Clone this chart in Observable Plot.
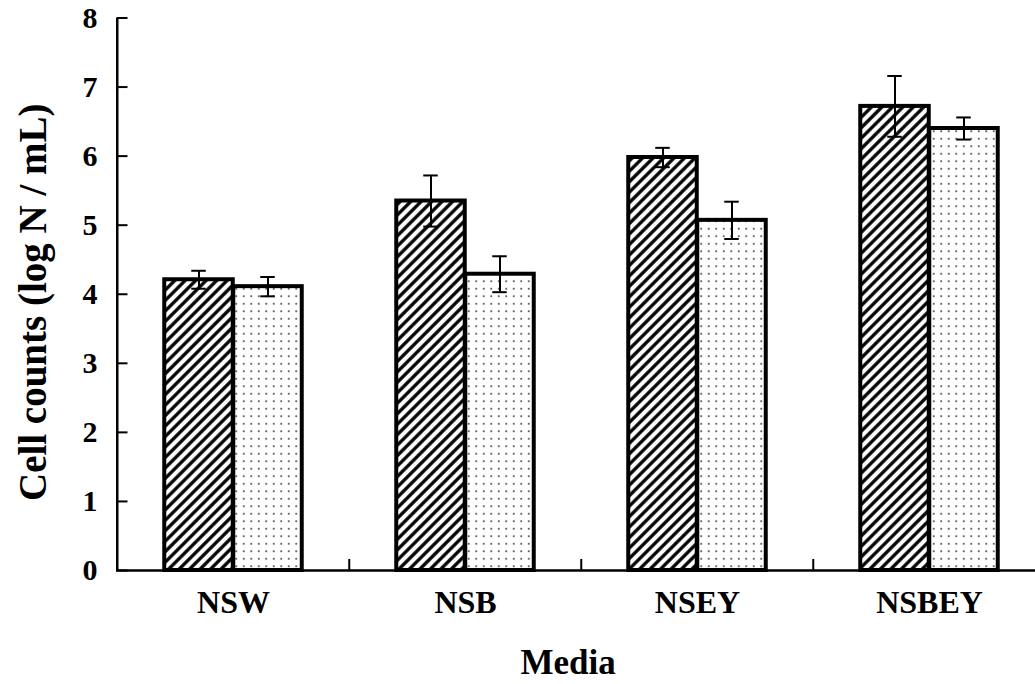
<!DOCTYPE html>
<html>
<head>
<meta charset="utf-8">
<script src="https://cdn.jsdelivr.net/npm/d3@7"></script>
<script src="https://cdn.jsdelivr.net/npm/@observablehq/plot@0.6"></script>
<style>
  body { margin: 0; background: #fff; }
  #chart svg { display: block; }
</style>
</head>
<body>
<div id="chart"></div>
<script>
// Cell counts per growth medium, two treatments (mean ± SD, log N / mL)
const media = ["NSW", "NSB", "NSEY", "NSBEY"];
const hatchedMean = [4.21, 5.35, 5.98, 6.72];
const hatchedSd = [0.13, 0.37, 0.14, 0.44];
const dottedMean = [4.11, 4.29, 5.07, 6.40];
const dottedSd = [0.14, 0.26, 0.27, 0.16];
const yTicks = [0, 1, 2, 3, 4, 5, 6, 7, 8];

const hatchedRows = media.map((m, i) => ({media: m, mean: hatchedMean[i], lo: hatchedMean[i] - hatchedSd[i], hi: hatchedMean[i] + hatchedSd[i]}));
const dottedRows = media.map((m, i) => ({media: m, mean: dottedMean[i], lo: dottedMean[i] - dottedSd[i], hi: dottedMean[i] + dottedSd[i]}));

// layout
const chartW = 1035, chartH = 684;
const mLeft = 116, mTop = 17.5, mBottom = 114;
const xRange = [mLeft, 1046];
const step = (xRange[1] - xRange[0]) / media.length;
const barW = 69;
const capW = 15;
const tickLen = 11;
const font = "'Liberation Serif', 'Times New Roman', serif";

// offsets of each bar inside its category band
const hatchedInset = {insetLeft: step / 2 - barW, insetRight: step / 2};
const dottedInset = {insetLeft: step / 2, insetRight: step / 2 - barW};
const capInset = (center) => ({insetLeft: center - capW / 2, insetRight: step - center - capW / 2});
const hatchedCap = capInset(step / 2 - barW / 2);
const dottedCap = capInset(step / 2 + barW / 2);

const errorBars = (rows, dx, cap) => [
  Plot.ruleX(rows, {x: "media", y1: "lo", y2: "hi", dx, stroke: "black", strokeWidth: 2}),
  Plot.tickY(rows, {x: "media", y: "lo", ...cap, stroke: "black", strokeWidth: 2}),
  Plot.tickY(rows, {x: "media", y: "hi", ...cap, stroke: "black", strokeWidth: 2})
];

const chart = Plot.plot({
  width: chartW,
  height: chartH,
  marginLeft: mLeft,
  marginRight: 0,
  marginTop: mTop,
  marginBottom: mBottom,
  style: {fontFamily: font, background: "white", color: "black", overflow: "hidden"},
  x: {type: "band", domain: media, range: xRange, padding: 0, label: null},
  y: {domain: [0, 8], label: null},
  marks: [
    Plot.barY(hatchedRows, {x: "media", y: "mean", ...hatchedInset, fill: "url(#hatch)", stroke: "black", strokeWidth: 4}),
    Plot.barY(dottedRows, {x: "media", y: "mean", ...dottedInset, fill: "url(#dots)", stroke: "black", strokeWidth: 4}),
    ...errorBars(hatchedRows, -barW / 2, hatchedCap),
    ...errorBars(dottedRows, barW / 2, dottedCap),
    // axis lines
    Plot.ruleY([0], {stroke: "black", strokeWidth: 2.5}),
    Plot.ruleX([media[0]], {dx: -step / 2, y1: yTicks[0], y2: yTicks[yTicks.length - 1], stroke: "black", strokeWidth: 2.5}),
    // inward y ticks
    Plot.tickY(yTicks, {y: (d) => d, x: () => media[0], insetLeft: 0, insetRight: step - tickLen, stroke: "black", strokeWidth: 2}),
    // category separators on the x axis
    Plot.ruleX(media.slice(1), {x: (d) => d, dx: -step / 2, y1: () => 0, y2: () => 0, insetTop: -tickLen, stroke: "black", strokeWidth: 2}),
    Plot.axisY(yTicks, {tickSize: 0, tickPadding: 19, fontSize: 30, fontWeight: "bold", tickFormat: (d) => String(d)}),
    Plot.axisX({tickSize: 0, tickPadding: 20, fontSize: 32, fontWeight: "bold"}),
    Plot.text(["Cell counts (log N / mL)"], {frameAnchor: "left", textAnchor: "middle", rotate: -90, dx: -83, dy: 8, fontSize: 39, fontWeight: "bold", fill: "black"}),
    Plot.text(["Media"], {frameAnchor: "bottom", dx: -8, dy: 103, fontSize: 35, fontWeight: "bold", fill: "black"})
  ]
});

// fill patterns for the two treatments
const defs = d3.select(chart).insert("defs", ":first-child");
const hatch = defs.append("pattern")
  .attr("id", "hatch").attr("patternUnits", "userSpaceOnUse")
  .attr("width", 7.4).attr("height", 7.4)
  .attr("patternTransform", "rotate(45)");
hatch.append("rect").attr("width", 7.4).attr("height", 7.4).attr("fill", "white");
hatch.append("line").attr("x1", 3.7).attr("y1", 0).attr("x2", 3.7).attr("y2", 7.4)
  .attr("stroke", "black").attr("stroke-width", 3.3);
const dots = defs.append("pattern")
  .attr("id", "dots").attr("patternUnits", "userSpaceOnUse")
  .attr("width", 7.5).attr("height", 7.5);
dots.append("rect").attr("width", 7.5).attr("height", 7.5).attr("fill", "white");
dots.append("circle").attr("cx", 3.75).attr("cy", 3.75).attr("r", 0.95).attr("fill", "#333");

document.getElementById("chart").append(chart);
</script>
</body>
</html>
